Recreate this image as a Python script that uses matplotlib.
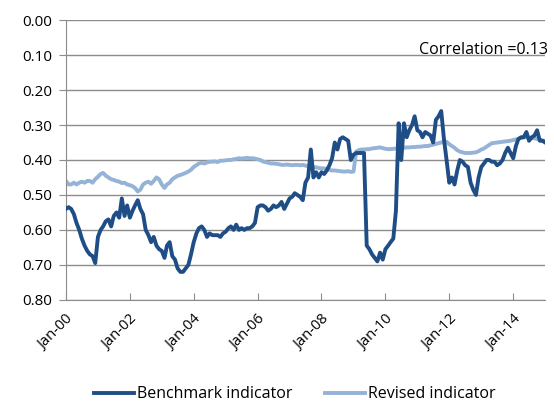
import matplotlib
matplotlib.use("Agg")
import matplotlib.pyplot as plt
import matplotlib.dates as mdates
import numpy as np
import pandas as pd

# monthly values, Jan-00 .. Jan-15
benchmark = [
    0.54, 0.535, 0.54, 0.555, 0.58, 0.60, 0.625, 0.645, 0.66, 0.67, 0.675, 0.695,
    0.62, 0.60, 0.59, 0.575, 0.57, 0.59, 0.56, 0.55, 0.565, 0.51, 0.56, 0.53,
    0.565, 0.545, 0.53, 0.515, 0.54, 0.555, 0.60, 0.615, 0.635, 0.62, 0.645, 0.655,
    0.66, 0.68, 0.645, 0.635, 0.675, 0.685, 0.71, 0.72, 0.72, 0.71, 0.70, 0.67,
    0.635, 0.61, 0.595, 0.59, 0.60, 0.62, 0.61, 0.615, 0.615, 0.615, 0.62, 0.61,
    0.605, 0.595, 0.59, 0.60, 0.585, 0.60, 0.595, 0.60, 0.595, 0.595, 0.59, 0.58,
    0.535, 0.53, 0.53, 0.535, 0.545, 0.54, 0.53, 0.535, 0.53, 0.52, 0.54, 0.525,
    0.51, 0.505, 0.495, 0.50, 0.505, 0.515, 0.465, 0.45, 0.37, 0.45, 0.435, 0.45,
    0.435, 0.44, 0.43, 0.415, 0.395, 0.35, 0.37, 0.34, 0.335, 0.34, 0.345, 0.40,
    0.385, 0.38, 0.38, 0.38, 0.38, 0.645, 0.655, 0.67, 0.68, 0.69, 0.665, 0.685,
    0.655, 0.645, 0.635, 0.625, 0.545, 0.295, 0.40, 0.295, 0.335, 0.315, 0.30, 0.275,
    0.315, 0.32, 0.335, 0.32, 0.325, 0.33, 0.35, 0.285, 0.275, 0.26, 0.34, 0.40,
    0.465, 0.45, 0.47, 0.43, 0.40, 0.405, 0.415, 0.42, 0.465, 0.485, 0.50, 0.45,
    0.42, 0.41, 0.40, 0.40, 0.405, 0.405, 0.415, 0.41, 0.40, 0.38, 0.365, 0.38,
    0.395, 0.36, 0.34, 0.335, 0.335, 0.32, 0.345, 0.335, 0.33, 0.315, 0.345, 0.345,
    0.35,
]
revised = [
    0.46, 0.47, 0.47, 0.465, 0.47, 0.465, 0.462, 0.465, 0.46, 0.46, 0.465, 0.455,
    0.448, 0.44, 0.437, 0.445, 0.45, 0.455, 0.457, 0.46, 0.462, 0.466, 0.465, 0.47,
    0.472, 0.475, 0.48, 0.49, 0.485, 0.47, 0.465, 0.462, 0.468, 0.46, 0.45, 0.455,
    0.47, 0.48, 0.47, 0.465, 0.455, 0.45, 0.445, 0.443, 0.44, 0.437, 0.433, 0.428,
    0.42, 0.415, 0.41, 0.408, 0.41, 0.407, 0.405, 0.405, 0.404, 0.406, 0.402, 0.402,
    0.401, 0.40, 0.40, 0.398, 0.397, 0.395, 0.396, 0.395, 0.394, 0.395, 0.395, 0.396,
    0.398, 0.40, 0.404, 0.406, 0.408, 0.41, 0.41, 0.411, 0.412, 0.414, 0.414, 0.413,
    0.414, 0.415, 0.414, 0.414, 0.415, 0.414, 0.416, 0.418, 0.419, 0.42, 0.421, 0.423,
    0.424, 0.424, 0.426, 0.428, 0.43, 0.43, 0.431, 0.432, 0.433, 0.433, 0.432, 0.434,
    0.433, 0.376, 0.372, 0.37, 0.37, 0.369, 0.369, 0.367, 0.366, 0.365, 0.364, 0.366,
    0.368, 0.369, 0.369, 0.368, 0.367, 0.367, 0.366, 0.365, 0.364, 0.364, 0.363, 0.363,
    0.362, 0.362, 0.361, 0.36, 0.36, 0.358, 0.356, 0.354, 0.352, 0.35, 0.348, 0.348,
    0.355, 0.36, 0.365, 0.372, 0.376, 0.378, 0.38, 0.38, 0.38, 0.379, 0.378, 0.375,
    0.37, 0.367, 0.362, 0.357, 0.352, 0.351, 0.35, 0.349, 0.348, 0.347, 0.346, 0.345,
    0.343, 0.341, 0.34, 0.337, 0.335, 0.335, 0.336, 0.337, 0.338, 0.34, 0.342, 0.344,
    0.346,
]
dates = pd.date_range("2000-01-01", periods=len(benchmark), freq="MS")
yticks = [0.0, 0.1, 0.2, 0.3, 0.4, 0.5, 0.6, 0.7, 0.8]

plt.rcParams["font.family"] = ["Open Sans", "DejaVu Sans"]

fig = plt.figure(figsize=(5.54, 4.03), dpi=100)
ax = fig.add_axes([0.119, 0.256, 0.865, 0.694])

ax.plot(dates, benchmark, color="#1F4E86", lw=2.8, label="Benchmark indicator", zorder=3)
ax.plot(dates, revised, color="#95B3D7", lw=2.8, label="Revised indicator", zorder=2)

ax.set_ylim(0.8, 0.0)
ax.set_yticks(yticks)
ax.set_yticklabels([f"{v:.2f}" for v in yticks])
ax.set_xlim(dates[0], dates[-1])
ax.xaxis.set_major_locator(mdates.YearLocator(2))
ax.xaxis.set_major_formatter(mdates.DateFormatter("%b-%y"))

ax.grid(axis="y", color="#8C8C8C", lw=1)
ax.set_axisbelow(True)
for s in ["top", "right"]:
    ax.spines[s].set_visible(False)
for s in ["left", "bottom"]:
    ax.spines[s].set_color("#8C8C8C")
ax.tick_params(axis="y", direction="out", length=5, color="#8C8C8C", labelsize=11, pad=5)
ax.tick_params(axis="x", direction="in", length=5, color="#8C8C8C", labelsize=10.5, pad=9)
for lab in ax.get_xticklabels():
    lab.set_rotation(45)
    lab.set_ha("right")
    lab.set_rotation_mode("anchor")

fig.text(0.989, 0.876, "Correlation =0.13", ha="right", va="center", fontsize=11.5)

fig.legend(loc="center", bbox_to_anchor=(0.532, 0.022), ncol=2, frameon=False,
           fontsize=11.5, handlelength=2.5, columnspacing=2.0, handletextpad=0.2)

fig.savefig("out.png", dpi=100)
